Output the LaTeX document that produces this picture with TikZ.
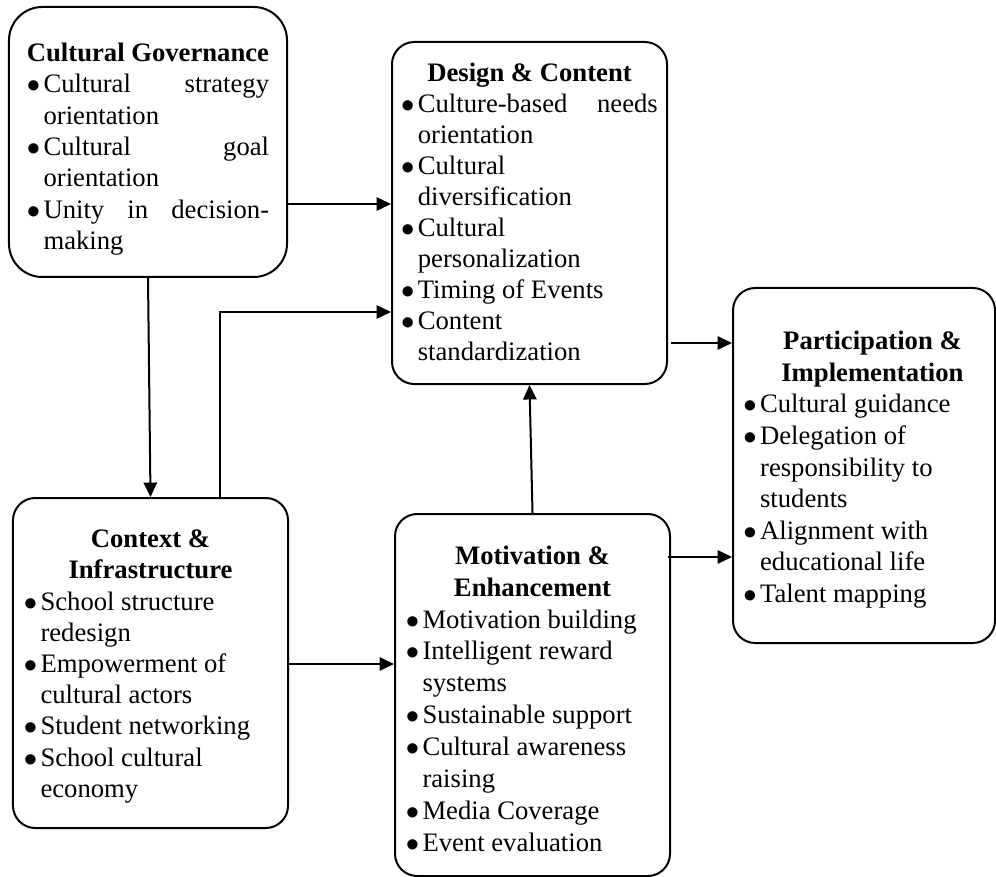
\documentclass[tikz,border=0pt]{standalone}
\usepackage{fontspec}
\setmainfont{Liberation Serif}
\usetikzlibrary{arrows.meta}
\newcommand\myttl[1]{\noindent\makebox[\linewidth]{\bfseries #1}\par}
\newcommand\myitm[1]{\noindent\hangindent=7.5pt\hangafter=1\makebox[7.5pt][l]{$\bullet$}#1\par}
\tikzset{
  box/.style={draw, line width=0.9pt, rounded corners=10pt, inner ysep=0pt},
  arr/.style={line width=0.9pt, -{Triangle[length=6.5pt,width=6pt]}}
}
\begin{document}
\begin{tikzpicture}[x=0.45pt,y=-0.45pt]
\useasboundingbox (0,0) rectangle (996,877);
\fill[white] (0,0) rectangle (996,877);

\node[box, rounded corners=15pt, minimum width=125.1pt, minimum height=121.5pt,
  inner xsep=8pt] (gov) at (148,142) {%
  \parbox[c][121.5pt][t]{109pt}{\fontsize{12}{14.1}\selectfont\hyphenpenalty=10000
  \myttl{\rule{0pt}{24.6pt}Cultural Governance}
  \myitm{Cultural strategy\linebreak orientation}
  \myitm{Cultural goal\linebreak orientation}
  \myitm{Unity in decision-\linebreak making}}};

\node[box, minimum width=123.75pt, minimum height=153.9pt,
  inner xsep=4pt] (design) at (529.5,213) {%
  \parbox[c][153.9pt][t]{115.5pt}{\fontsize{12}{13.95}\selectfont\hyphenpenalty=10000
  \myttl{\rule{0pt}{17.8pt}Design \& Content}
  \myitm{Culture-based needs\linebreak orientation}
  \myitm{Cultural\newline diversification}
  \myitm{Cultural\newline personalization}
  \myitm{Timing of Events}
  \myitm{Content\newline standardization}}};

\node[box, minimum width=123.75pt, minimum height=148.5pt,
  inner xsep=4.5pt] (ctx) at (150.5,663) {%
  \parbox[c][148.5pt][t]{114pt}{\fontsize{12}{14.05}\selectfont\raggedright
  \myttl{\rule{0pt}{22.3pt}Context \&}
  \myttl{Infrastructure}
  \myitm{School structure\newline redesign}
  \myitm{Empowerment of\newline cultural actors}
  \myitm{Student networking}
  \myitm{School cultural\newline economy}}};

\node[box, minimum width=123.75pt, minimum height=162.9pt,
  inner xsep=4.5pt] (motiv) at (532.5,695) {%
  \parbox[c][162.9pt][t]{114pt}{\fontsize{12}{14.35}\selectfont\raggedright
  \myttl{\rule{0pt}{22.6pt}Motivation \&}
  \myttl{Enhancement}
  \myitm{Motivation building}
  \myitm{Intelligent reward\newline systems}
  \myitm{Sustainable support}
  \myitm{Cultural awareness\newline raising}
  \myitm{Media Coverage}
  \myitm{Event evaluation}}};

\node[box, minimum width=117.9pt, minimum height=159.75pt,
  inner xsep=4.5pt] (part) at (864,465.5) {%
  \parbox[c][159.75pt][t]{108.5pt}{\fontsize{12}{14.2}\selectfont\raggedright
  \myttl{\rule{0pt}{27.8pt}\hspace*{7.6pt}Participation \&}
  \myttl{\hspace*{7.6pt}Implementation}
  \myitm{Cultural guidance}
  \myitm{Delegation of\newline responsibility to\newline students}
  \myitm{Alignment with\newline educational life}
  \myitm{Talent mapping}}};

\coordinate (h1) at (0,204);
\coordinate (c1) at (220,312);
\coordinate (h3) at (0,664);
\coordinate (h4) at (0,343);
\coordinate (h5) at (0,557);

\draw[arr] (gov.east |- h1) -- (design.west |- h1);
\draw[arr] (gov.south) -- (ctx.north);
\draw[arr] (ctx.north -| c1) -- (c1) -- (design.west |- c1);
\draw[arr] (ctx.east |- h3) -- (motiv.west |- h3);
\draw[arr] (motiv.north) -- (design.south);
\draw[arr] ([xshift=1.5pt]design.east |- h4) -- (part.west |- h4);
\draw[arr] ([xshift=-1.5pt]motiv.east |- h5) -- (part.west |- h5);
\end{tikzpicture}
\end{document}
